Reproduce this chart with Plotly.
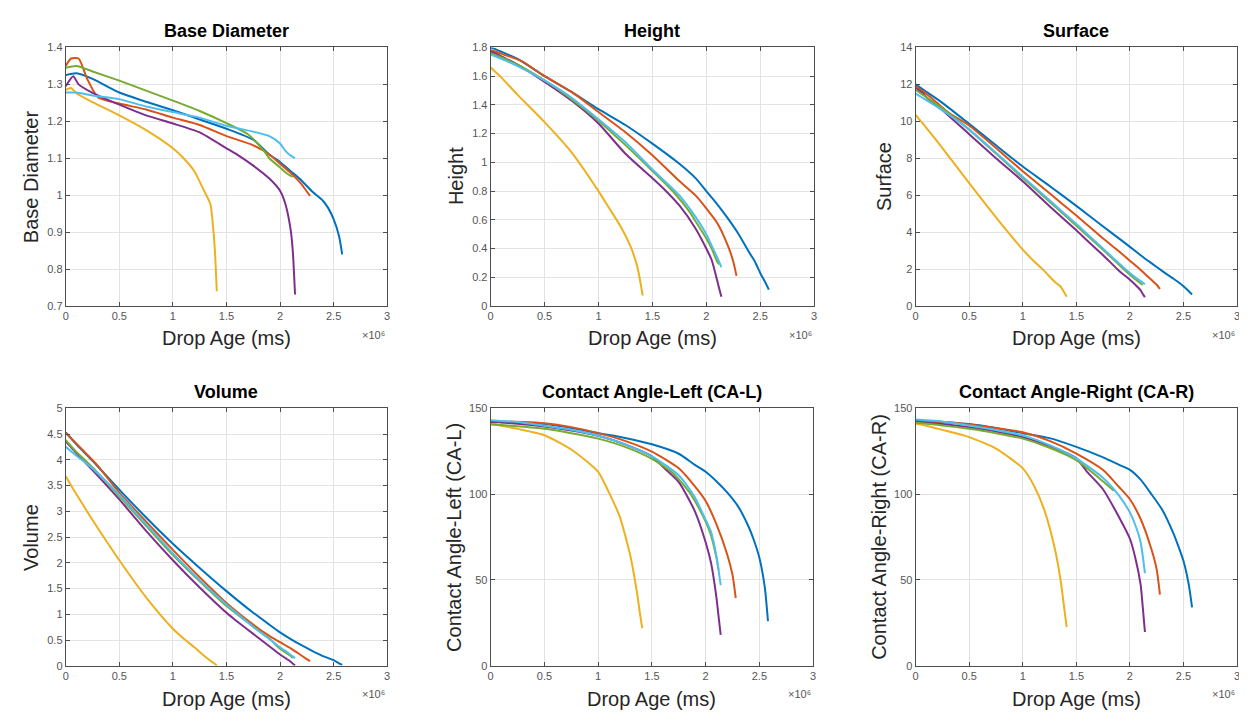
import plotly.graph_objects as go

W, H = 1247, 713

# ---------------- data (drop age in units of 1e6 ms) ----------------
t_blue = [0, 0.1, 0.25, 0.5, 0.75, 1.0, 1.25, 1.5, 1.75, 1.9, 2.0, 2.1, 2.2, 2.3, 2.4, 2.45, 2.5, 2.55, 2.58]
t_red = [0, 0.05, 0.12, 0.2, 0.3, 0.5, 0.75, 1.0, 1.25, 1.5, 1.75, 1.9, 2.0, 2.1, 2.2, 2.25, 2.28]
t_yellow = [0, 0.05, 0.1, 0.25, 0.5, 0.75, 1.0, 1.1, 1.2, 1.3, 1.35, 1.37, 1.39, 1.41]
t_purple = [0, 0.07, 0.12, 0.25, 0.5, 0.75, 1.0, 1.25, 1.5, 1.6, 1.75, 1.9, 2.0, 2.05, 2.1, 2.12, 2.14]
t_green = [0, 0.1, 0.25, 0.5, 0.75, 1.0, 1.25, 1.5, 1.7, 1.85, 1.9, 2.0, 2.05, 2.1, 2.12]
t_lblue = [0, 0.1, 0.25, 0.5, 0.75, 1.0, 1.25, 1.5, 1.75, 1.9, 2.0, 2.05, 2.1, 2.14]

# Base Diameter
bd_blue = [1.325, 1.33, 1.315, 1.278, 1.253, 1.23, 1.205, 1.18, 1.15, 1.11, 1.09, 1.065, 1.04, 1.01, 0.985, 0.965, 0.935, 0.89, 0.84]
bd_red = [1.35, 1.37, 1.37, 1.315, 1.265, 1.248, 1.232, 1.21, 1.19, 1.16, 1.135, 1.11, 1.085, 1.06, 1.03, 1.01, 0.998]
bd_yellow = [1.285, 1.29, 1.276, 1.252, 1.216, 1.176, 1.127, 1.1, 1.065, 1.007, 0.976, 0.93, 0.86, 0.74]
bd_purple = [1.295, 1.322, 1.30, 1.277, 1.245, 1.216, 1.194, 1.17, 1.127, 1.11, 1.08, 1.045, 1.012, 0.976, 0.905, 0.845, 0.731]
bd_green = [1.345, 1.35, 1.335, 1.31, 1.283, 1.256, 1.228, 1.195, 1.165, 1.12, 1.10, 1.075, 1.062, 1.052, 1.05]
bd_lblue = [1.278, 1.278, 1.27, 1.26, 1.24, 1.225, 1.21, 1.188, 1.172, 1.16, 1.14, 1.12, 1.107, 1.10]

# Height
h_blue = [1.80, 1.77, 1.72, 1.60, 1.49, 1.37, 1.26, 1.13, 0.99, 0.89, 0.80, 0.71, 0.61, 0.50, 0.37, 0.31, 0.23, 0.16, 0.114]
h_red = [1.78, 1.77, 1.75, 1.73, 1.70, 1.60, 1.49, 1.35, 1.21, 1.05, 0.87, 0.77, 0.68, 0.58, 0.42, 0.31, 0.21]
h_yellow = [1.66, 1.625, 1.59, 1.47, 1.28, 1.07, 0.80, 0.68, 0.56, 0.41, 0.30, 0.24, 0.16, 0.073]
h_purple = [1.77, 1.75, 1.73, 1.68, 1.56, 1.43, 1.27, 1.06, 0.89, 0.82, 0.70, 0.54, 0.40, 0.32, 0.18, 0.12, 0.065]
h_green = [1.76, 1.73, 1.68, 1.57, 1.44, 1.29, 1.12, 0.94, 0.79, 0.65, 0.59, 0.47, 0.40, 0.31, 0.29]
h_lblue = [1.75, 1.72, 1.67, 1.57, 1.45, 1.30, 1.14, 0.95, 0.77, 0.62, 0.50, 0.42, 0.34, 0.27]

# Surface
s_blue = [12.0, 11.6, 11.0, 9.86, 8.7, 7.55, 6.5, 5.42, 4.3, 3.65, 3.2, 2.75, 2.32, 1.9, 1.5, 1.3, 1.07, 0.8, 0.62]
s_red = [11.9, 11.7, 11.4, 11.0, 10.5, 9.77, 8.55, 7.3, 6.1, 4.9, 3.65, 2.95, 2.45, 1.95, 1.42, 1.15, 0.92]
s_yellow = [10.35, 10.0, 9.65, 8.55, 6.65, 4.8, 3.05, 2.45, 1.9, 1.3, 1.07, 0.9, 0.7, 0.5]
s_purple = [11.8, 11.5, 11.2, 10.6, 9.3, 8.0, 6.75, 5.4, 4.1, 3.55, 2.75, 1.9, 1.42, 1.15, 0.85, 0.65, 0.48]
s_green = [11.7, 11.3, 10.7, 9.55, 8.25, 6.93, 5.65, 4.35, 3.3, 2.5, 2.22, 1.69, 1.45, 1.22, 1.15]
s_lblue = [11.5, 11.15, 10.6, 9.55, 8.3, 7.0, 5.72, 4.44, 3.1, 2.3, 1.78, 1.55, 1.35, 1.18]

# Volume
v_blue = [4.53, 4.30, 3.98, 3.42, 2.88, 2.37, 1.90, 1.45, 1.03, 0.80, 0.65, 0.52, 0.40, 0.29, 0.19, 0.15, 0.11, 0.05, 0.02]
v_red = [4.52, 4.42, 4.27, 4.1, 3.88, 3.36, 2.8, 2.25, 1.72, 1.22, 0.8, 0.58, 0.46, 0.34, 0.2, 0.13, 0.09]
v_yellow = [3.68, 3.5, 3.33, 2.83, 2.05, 1.33, 0.72, 0.53, 0.36, 0.18, 0.1, 0.07, 0.04, 0.01]
v_purple = [4.36, 4.2, 4.08, 3.8, 3.23, 2.62, 2.05, 1.52, 1.03, 0.86, 0.62, 0.38, 0.22, 0.15, 0.08, 0.04, 0.01]
v_green = [4.38, 4.15, 3.85, 3.29, 2.72, 2.15, 1.64, 1.16, 0.84, 0.6, 0.53, 0.33, 0.26, 0.19, 0.15]
v_lblue = [4.25, 4.08, 3.83, 3.32, 2.75, 2.18, 1.66, 1.19, 0.76, 0.52, 0.36, 0.29, 0.21, 0.15]

# Contact Angle-Left
cal_blue = [142.5, 142.3, 141.8, 140.8, 138.5, 135.5, 132.7, 129, 123.5, 117, 113, 107.5, 101, 93, 81, 73, 63, 46, 26]
cal_red = [142.3, 142.3, 142.2, 142.1, 142, 141.3, 139, 135.5, 131, 124.7, 115, 104.5, 96, 82.5, 65, 53, 39.5]
cal_yellow = [141, 140.5, 139.8, 138, 134.3, 126, 113, 101, 87, 64, 47, 39, 30, 22]
cal_purple = [142, 141.8, 141.6, 141, 139.3, 137, 134, 129, 122, 116, 107, 90, 72, 60, 40, 29, 18]
cal_green = [140.5, 140.2, 139.5, 138, 135.5, 132.3, 127.5, 120.5, 112, 101, 96, 84, 76, 63, 56]
cal_lblue = [143, 142.6, 142, 139.8, 137.5, 134, 129, 122, 111, 98, 85, 78, 64, 47]

# Contact Angle-Right
car_blue = [143, 142.6, 142, 140.8, 138.5, 135.5, 132.6, 127.5, 121.4, 117, 114.1, 108.4, 100, 91, 78, 70, 61, 47, 34]
car_red = [142, 142, 142, 142, 142, 140.5, 138.5, 136, 131, 123.6, 114, 104, 97, 85.5, 68, 56, 41.5]
car_yellow = [141, 140.5, 139.8, 137.4, 133.2, 126.5, 115, 105.5, 91, 68, 51, 42, 32, 22.5]
car_purple = [142, 141.8, 141.5, 140.8, 138.9, 136.5, 133.2, 128, 120.8, 113, 102.7, 86.4, 74, 63, 47.3, 34, 19.7]
car_green = [141.5, 141, 140, 138, 135.5, 132.3, 127, 119.8, 110, 102, None, None, None, None, None]
car_lblue = [143.5, 143, 142.3, 139.9, 137.3, 134.2, 128.5, 120.8, 109.4, 99, 89.3, 82, 72, 54]

x_ticks = [0, 0.5, 1, 1.5, 2, 2.5, 3]
x_tick_labels = ["0", "0.5", "1", "1.5", "2", "2.5", "3"]

# ---------------- styling ----------------
COL = {"blue": "#0072BD", "red": "#D95319", "yellow": "#EDB120",
       "purple": "#7E2F8E", "green": "#77AC30", "lblue": "#4DBEEE"}
TIMES = {"blue": t_blue, "red": t_red, "yellow": t_yellow,
         "purple": t_purple, "green": t_green, "lblue": t_lblue}
ORDER = ["blue", "red", "yellow", "purple", "green", "lblue"]

panels = [
    ("Base Diameter", "Base Diameter", [0.7, 1.4], 0.1,
     {"blue": bd_blue, "red": bd_red, "yellow": bd_yellow, "purple": bd_purple, "green": bd_green, "lblue": bd_lblue}),
    ("Height", "Height", [0, 1.8], 0.2,
     {"blue": h_blue, "red": h_red, "yellow": h_yellow, "purple": h_purple, "green": h_green, "lblue": h_lblue}),
    ("Surface", "Surface", [0, 14], 2,
     {"blue": s_blue, "red": s_red, "yellow": s_yellow, "purple": s_purple, "green": s_green, "lblue": s_lblue}),
    ("Volume", "Volume", [0, 5], 0.5,
     {"blue": v_blue, "red": v_red, "yellow": v_yellow, "purple": v_purple, "green": v_green, "lblue": v_lblue}),
    ("Contact Angle-Left (CA-L)", "Contact Angle-Left (CA-L)", [0, 150], 50,
     {"blue": cal_blue, "red": cal_red, "yellow": cal_yellow, "purple": cal_purple, "green": cal_green, "lblue": cal_lblue}),
    ("Contact Angle-Right (CA-R)", "Contact Angle-Right (CA-R)", [0, 150], 50,
     {"blue": car_blue, "red": car_red, "yellow": car_yellow, "purple": car_purple, "green": car_green, "lblue": car_lblue}),
]

# plot-area pixel boxes (left, right, top, bottom)
boxes = [(55, 378, 34, 297), (482, 807, 34, 297), (909, 1232, 34, 297),
         (55, 378, 401, 663), (482, 806, 401, 663), (909, 1232, 401, 663)]
ytitle_x = [20, 447, 877, 20, 445, 872]

FONT = "Liberation Sans, Arial, Helvetica, sans-serif"
AXC = "#4d4d4d"

fig = go.Figure()
layout = dict(
    width=W, height=H, margin=dict(l=0, r=0, t=0, b=0),
    paper_bgcolor="white", plot_bgcolor="white", showlegend=False,
    font=dict(family=FONT, color="#262626"),
)
annotations = []

for i, (title, ytitle, yr, dt, series) in enumerate(panels):
    k = i + 1
    xa = "x" if k == 1 else f"x{k}"
    ya = "y" if k == 1 else f"y{k}"
    l, r, t, b = boxes[i]
    for name in ORDER:
        fig.add_trace(go.Scatter(
            x=TIMES[name], y=series[name], mode="lines",
            line=dict(color=COL[name], width=2, shape="spline", smoothing=0.6),
            xaxis=xa, yaxis=ya, connectgaps=False, hoverinfo="skip"))
    common = dict(showgrid=True, gridcolor="#e3e3e3", gridwidth=1, zeroline=False,
                  showline=True, linecolor=AXC, linewidth=1, mirror="ticks",
                  ticks="inside", ticklen=4, tickcolor=AXC,
                  tickfont=dict(size=11, color="#555555", family=FONT))
    layout["xaxis" if k == 1 else f"xaxis{k}"] = dict(
        domain=[l / W, r / W], anchor=ya, range=[0, 3],
        tickmode="array", tickvals=x_ticks, ticktext=x_tick_labels, **common)
    layout["yaxis" if k == 1 else f"yaxis{k}"] = dict(
        domain=[1 - b / H, 1 - t / H], anchor=xa, range=yr, dtick=dt, tick0=0, **common)

    row2 = i >= 3
    cx = (l + r) / 2
    annotations.append(dict(text=f"<b>{title}</b>", x=cx / W, y=1 - (384 if row2 else 17) / H,
                            xref="paper", yref="paper", showarrow=False,
                            xanchor="center", yanchor="middle",
                            font=dict(size=18, color="black", family=FONT)))
    annotations.append(dict(text=ytitle, x=ytitle_x[i] / W, y=1 - (532 if row2 else 165) / H,
                            xref="paper", yref="paper", showarrow=False, textangle=-90,
                            xanchor="center", yanchor="middle",
                            font=dict(size=20, color="#262626", family=FONT)))
    annotations.append(dict(text="Drop Age (ms)", x=cx / W, y=1 - (697 if row2 else 330) / H,
                            xref="paper", yref="paper", showarrow=False,
                            xanchor="center", yanchor="middle",
                            font=dict(size=20, color="#262626", family=FONT)))
    annotations.append(dict(text="×10⁶", x=r / W, y=1 - (692 if row2 else 326) / H,
                            xref="paper", yref="paper", showarrow=False,
                            xanchor="right", yanchor="middle",
                            font=dict(size=11, color="#555555", family=FONT)))

layout["annotations"] = annotations
fig.update_layout(**layout)
fig.write_html("out.html")
